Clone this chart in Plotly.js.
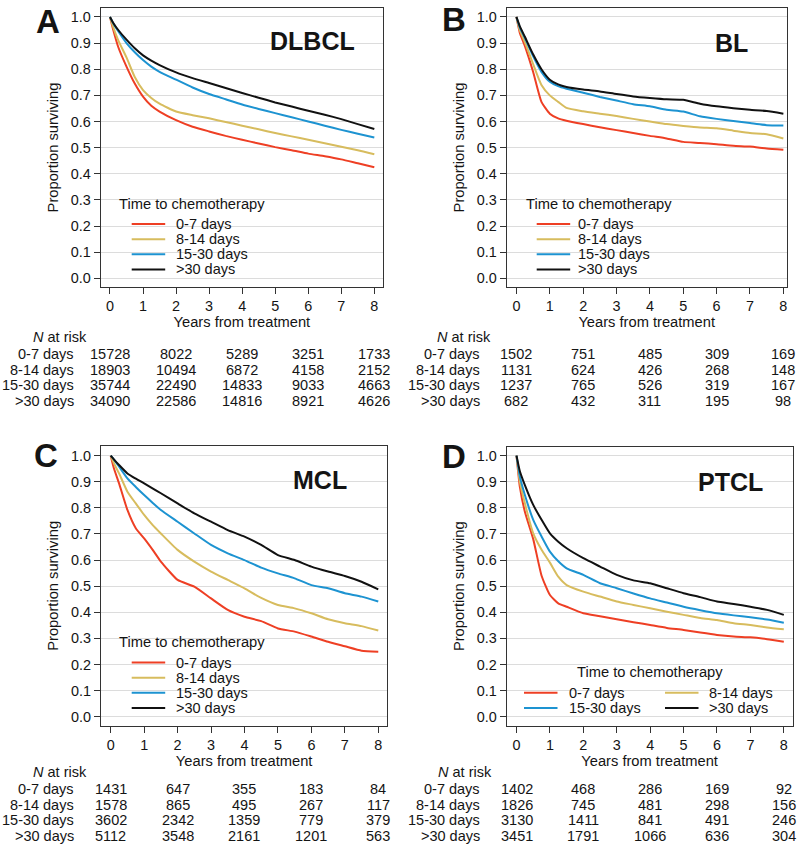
<!DOCTYPE html>
<html><head><meta charset="utf-8">
<script src="https://cdn.plot.ly/plotly-3.0.1.min.js"></script>
<style>html,body{margin:0;padding:0;background:#fff}#chart{width:800px;height:851px}</style>
</head><body><div id="chart"></div>
<script>
// ---------- DATA ----------
const years = [0,0.1,0.25,0.5,0.75,1,1.25,1.5,2,2.5,3,3.5,4,4.5,5,5.5,6,6.5,7,7.5,8];
const groups = ['0-7 days','8-14 days','15-30 days','>30 days'];
const panelNames = ['DLBCL','BL','MCL','PTCL'];
const panelLetters = ['A','B','C','D'];
const riskYears = [0,2,4,6,8];

// DLBCL
const dlbcl_0_7   = [1,0.95,0.885,0.81,0.745,0.695,0.66,0.638,0.605,0.58,0.562,0.545,0.530,0.516,0.502,0.490,0.477,0.467,0.455,0.440,0.425];
const dlbcl_8_14  = [1,0.96,0.91,0.845,0.77,0.72,0.69,0.668,0.638,0.624,0.612,0.598,0.584,0.570,0.556,0.543,0.530,0.517,0.503,0.490,0.475];
const dlbcl_15_30 = [1,0.975,0.945,0.90,0.865,0.835,0.81,0.79,0.76,0.73,0.705,0.685,0.665,0.648,0.632,0.616,0.600,0.584,0.568,0.553,0.539];
const dlbcl_gt30  = [1,0.977,0.95,0.913,0.88,0.853,0.833,0.816,0.788,0.766,0.747,0.728,0.709,0.691,0.673,0.657,0.641,0.626,0.609,0.590,0.571];
// BL
const bl_0_7   = [1,0.94,0.89,0.79,0.675,0.63,0.612,0.603,0.59,0.578,0.567,0.556,0.545,0.535,0.522,0.518,0.513,0.507,0.504,0.497,0.492];
const bl_8_14  = [1,0.95,0.905,0.82,0.74,0.70,0.675,0.652,0.639,0.63,0.621,0.61,0.600,0.59,0.583,0.577,0.574,0.565,0.556,0.551,0.535];
const bl_15_30 = [1,0.96,0.92,0.85,0.79,0.752,0.735,0.725,0.71,0.694,0.68,0.666,0.658,0.645,0.638,0.62,0.61,0.602,0.594,0.586,0.585];
const bl_gt30  = [1,0.965,0.925,0.857,0.80,0.76,0.742,0.732,0.722,0.715,0.705,0.696,0.69,0.685,0.683,0.668,0.658,0.651,0.645,0.64,0.630];
// MCL
const mcl_0_7   = [1,0.95,0.894,0.792,0.722,0.683,0.64,0.594,0.524,0.498,0.453,0.409,0.383,0.366,0.338,0.326,0.307,0.287,0.27,0.253,0.249];
const mcl_8_14  = [1,0.97,0.932,0.862,0.817,0.773,0.735,0.702,0.639,0.594,0.556,0.524,0.492,0.455,0.428,0.415,0.396,0.373,0.358,0.347,0.330];
const mcl_15_30 = [1,0.985,0.958,0.913,0.88,0.849,0.82,0.792,0.747,0.702,0.658,0.626,0.600,0.571,0.549,0.530,0.504,0.492,0.473,0.460,0.441];
const mcl_gt30  = [1,0.985,0.964,0.932,0.912,0.894,0.875,0.856,0.817,0.779,0.747,0.715,0.690,0.658,0.619,0.600,0.575,0.556,0.539,0.517,0.488];
// PTCL
const ptcl_0_7   = [1,0.88,0.785,0.68,0.54,0.466,0.434,0.421,0.396,0.385,0.373,0.362,0.351,0.34,0.332,0.322,0.313,0.307,0.304,0.297,0.287];
const ptcl_8_14  = [1,0.90,0.817,0.702,0.639,0.59,0.536,0.504,0.479,0.46,0.441,0.428,0.415,0.402,0.39,0.378,0.37,0.358,0.351,0.342,0.335];
const ptcl_15_30 = [1,0.92,0.849,0.754,0.69,0.632,0.595,0.568,0.543,0.511,0.492,0.472,0.453,0.437,0.421,0.408,0.396,0.388,0.381,0.372,0.360];
const ptcl_gt30  = [1,0.94,0.887,0.811,0.754,0.702,0.67,0.645,0.607,0.575,0.543,0.522,0.511,0.492,0.473,0.458,0.441,0.432,0.421,0.409,0.390];

// N at risk (years 0,2,4,6,8)
const riskDLBCL = [[15728,8022,5289,3251,1733],[18903,10494,6872,4158,2152],[35744,22490,14833,9033,4663],[34090,22586,14816,8921,4626]];
const riskBL    = [[1502,751,485,309,169],[1131,624,426,268,148],[1237,765,526,319,167],[682,432,311,195,98]];
const riskMCL   = [[1431,647,355,183,84],[1578,865,495,267,117],[3602,2342,1359,779,379],[5112,3548,2161,1201,563]];
const riskPTCL  = [[1402,468,286,169,92],[1826,745,481,298,156],[3130,1411,841,491,246],[3451,1791,1066,636,304]];

// ---------- STYLE / GEOMETRY ----------
const W = 800, H = 851;
const px = v => v / W;
const py = v => 1 - v / H;
const FONT = 'Liberation Sans, Arial, Helvetica, sans-serif';
const TXT = '#141414';
const colors = ['#EE3F24','#D7BC5E','#1D93D1','#111111'];

const series = [
  [dlbcl_0_7, dlbcl_8_14, dlbcl_15_30, dlbcl_gt30],
  [bl_0_7, bl_8_14, bl_15_30, bl_gt30],
  [mcl_0_7, mcl_8_14, mcl_15_30, mcl_gt30],
  [ptcl_0_7, ptcl_8_14, ptcl_15_30, ptcl_gt30]
];
const risks = [riskDLBCL, riskBL, riskMCL, riskPTCL];

const geo = [
  {xl:100.7, xr:383.0, yt:8.3,  yb:286.7, xr0:-0.281, xr1:8.263, yr0:-0.032, yr1:1.033,
   letter:[47.5,21.7], name:[312,41], nameBox:[243,373,8.3,55],
   legBox:[102,272,190,285.5], legTitle:[117.3,204,'left'],
   leg:[[131.7,174.3,224.1],[131.7,174.3,239.2],[131.7,174.3,254.3],[131.7,174.3,269.4]],
   riskLabX:76, riskNX:31, riskY:[336.7,354.3,370,385.3,400.6]},
  {xl:506.7, xr:786.7, yt:8.3,  yb:286.7, xr0:-0.291, xr1:8.10, yr0:-0.032, yr1:1.033,
   letter:[454,19.5], name:[731.7,43], nameBox:[655,777,8.3,55],
   legBox:[508,680,190,285.5], legTitle:[524,204,'left'],
   leg:[[536.7,575.7,224.1],[536.7,575.7,239.2],[536.7,575.7,254.3],[536.7,575.7,269.4]],
   riskLabX:481.7, riskNX:435, riskY:[336.7,354.3,370,385.3,400.6]},
  {xl:101.0, xr:387.3, yt:446,  yb:725.7, xr0:-0.290, xr1:8.27, yr0:-0.0345, yr1:1.037,
   letter:[46,455.8], name:[320,480], nameBox:[248,378,446,493],
   legBox:[102.3,274,628,724.5], legTitle:[117.3,641.7,'left'],
   leg:[[131.7,174.3,662.6],[131.7,174.3,677.7],[131.7,174.3,692.8],[131.7,174.3,707.9]],
   riskLabX:76, riskNX:31, riskY:[772.3,789.3,805,820.3,835.7]},
  {xl:506.7, xr:792.5, yt:446.7,yb:725.7, xr0:-0.294, xr1:8.26, yr0:-0.0345, yr1:1.034,
   letter:[454,456], name:[730,481.7], nameBox:[660,788,446.7,493],
   legBox:[508,783,650,724.5], legTitle:[649.6,672.3,'center'],
   leg:[[524,566.7,692.7],[665,706.7,692.7],[524,566.7,707.9],[665,706.7,707.9]],
   riskLabX:481.7, riskNX:436, riskY:[772.3,789.3,805,820.3,835.7]}
];

const traces = [];
const layout = {
  width: W, height: H,
  margin: {l:0, r:0, t:0, b:0},
  paper_bgcolor: '#fff', plot_bgcolor: '#fff',
  showlegend: false,
  font: {family: FONT, size: 14, color: TXT},
  annotations: [], shapes: []
};

geo.forEach((g, i) => {
  const sfx = i === 0 ? '' : String(i + 1);
  const xa = 'x' + sfx, ya = 'y' + sfx;
  series[i].forEach((vals, k) => {
    traces.push({
      type: 'scatter', mode: 'lines', x: years, y: vals, name: groups[k],
      xaxis: xa, yaxis: ya, line: {color: colors[k], width: 2, shape: 'spline', smoothing: 0.5},
      hoverinfo: 'skip'
    });
  });
  const axCommon = {
    showline: true, linecolor: '#333', linewidth: 1, mirror: true,
    ticks: 'outside', ticklen: 6, tickcolor: '#333', tickwidth: 1,
    tickfont: {family: FONT, size: 14.4, color: TXT},
    zeroline: false, fixedrange: true
  };
  layout['xaxis' + sfx] = Object.assign({}, axCommon, {
    domain: [px(g.xl), px(g.xr)], anchor: ya, range: [g.xr0, g.xr1],
    tickmode: 'array', tickvals: [0,1,2,3,4,5,6,7,8], showgrid: false,
    title: {text: 'Years from treatment', font: {family: FONT, size: 14.7, color: TXT}, standoff: 0}
  });
  layout['yaxis' + sfx] = Object.assign({}, axCommon, {
    domain: [py(g.yb), py(g.yt)], anchor: xa, range: [g.yr0, g.yr1],
    tickmode: 'array', tickvals: [0,0.1,0.2,0.3,0.4,0.5,0.6,0.7,0.8,0.9,1.0],
    tickformat: '.1f', showgrid: true, gridcolor: '#dcdcdc', gridwidth: 1,
    title: {text: 'Proportion surviving', font: {family: FONT, size: 14.7, color: TXT}, standoff: 8}
  });

  // white boxes hiding gridlines behind panel name and legend
  [g.nameBox, g.legBox].forEach(b => {
    layout.shapes.push({type: 'rect', xref: 'paper', yref: 'paper', layer: 'between',
      x0: px(b[0]), x1: px(b[1]), y0: py(b[3]), y1: py(b[2]),
      fillcolor: '#fff', line: {width: 0}});
  });

  // panel letter and name
  layout.annotations.push({xref: 'paper', yref: 'paper', x: px(g.letter[0]), y: py(g.letter[1]),
    xanchor: 'center', yanchor: 'middle', showarrow: false, text: '<b>' + panelLetters[i] + '</b>',
    font: {family: FONT, size: 33, color: TXT}});
  layout.annotations.push({xref: 'paper', yref: 'paper', x: px(g.name[0]), y: py(g.name[1]),
    xanchor: 'center', yanchor: 'middle', showarrow: false, text: '<b>' + panelNames[i] + '</b>',
    font: {family: FONT, size: 25, color: TXT}});

  // legend
  layout.annotations.push({xref: 'paper', yref: 'paper', x: px(g.legTitle[0]), y: py(g.legTitle[1]),
    xanchor: g.legTitle[2], yanchor: 'middle', showarrow: false, text: 'Time to chemotherapy',
    font: {family: FONT, size: 14.7, color: TXT}});
  groups.forEach((name, k) => {
    const e = g.leg[k];
    layout.shapes.push({type: 'line', xref: 'paper', yref: 'paper', layer: 'above',
      x0: px(e[0]), x1: px(e[0] + 33.5), y0: py(e[2]), y1: py(e[2]),
      line: {color: colors[k], width: 2}});
    layout.annotations.push({xref: 'paper', yref: 'paper', x: px(e[1]), y: py(e[2]),
      xanchor: 'left', yanchor: 'middle', showarrow: false, text: name,
      font: {family: FONT, size: 14.5, color: TXT}});
  });

  // risk table
  layout.annotations.push({xref: 'paper', yref: 'paper', x: px(g.riskNX), y: py(g.riskY[0]),
    xanchor: 'left', yanchor: 'middle', showarrow: false, text: '<i>N</i> at risk',
    font: {family: FONT, size: 14.5, color: TXT}});
  groups.forEach((name, k) => {
    const yy = py(g.riskY[k + 1]);
    layout.annotations.push({xref: 'paper', yref: 'paper', x: px(g.riskLabX), y: yy,
      xanchor: 'right', yanchor: 'middle', showarrow: false, text: name,
      font: {family: FONT, size: 14.5, color: TXT}});
    risks[i][k].forEach((n, j) => {
      layout.annotations.push({xref: xa, yref: 'paper', x: riskYears[j], y: yy,
        xanchor: 'center', yanchor: 'middle', showarrow: false, text: String(n),
        font: {family: FONT, size: 14.5, color: TXT}});
    });
  });
});

Plotly.newPlot('chart', traces, layout, {staticPlot: true, displayModeBar: false});
</script>
</body></html>
